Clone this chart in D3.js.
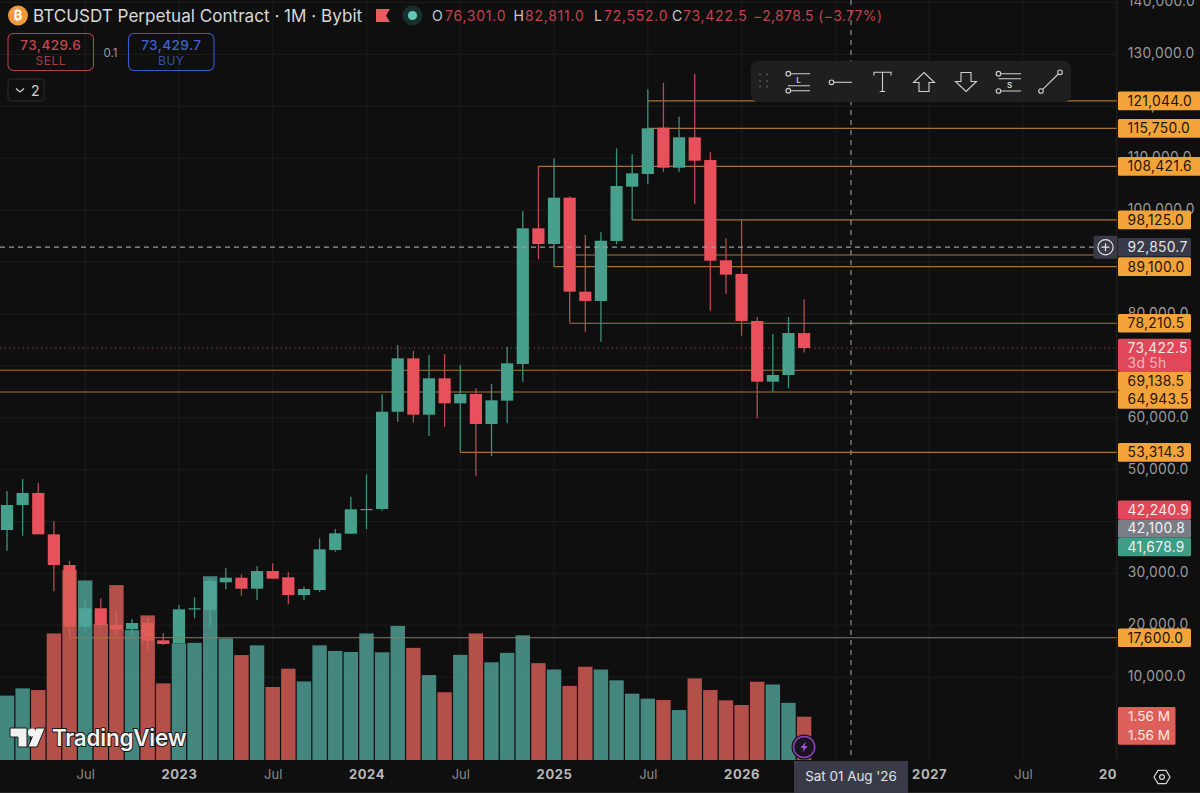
<!DOCTYPE html>
<html>
<head>
<meta charset="utf-8">
<script src="https://d3js.org/d3.v7.min.js"></script>
<style>
  html, body { margin: 0; padding: 0; background: #0f0f0f; overflow: hidden; }
  svg { display: block; }
  text { font-family: Inter, "Noto Sans", sans-serif; }
</style>
</head>
<body>
<svg id="chart" width="1200" height="793"></svg>
<script>
// monthly candles, Feb 2022 .. May 2026
const months = ["2022-02","2022-03","2022-04","2022-05","2022-06","2022-07","2022-08","2022-09","2022-10","2022-11","2022-12",
  "2023-01","2023-02","2023-03","2023-04","2023-05","2023-06","2023-07","2023-08","2023-09","2023-10","2023-11","2023-12",
  "2024-01","2024-02","2024-03","2024-04","2024-05","2024-06","2024-07","2024-08","2024-09","2024-10","2024-11","2024-12",
  "2025-01","2025-02","2025-03","2025-04","2025-05","2025-06","2025-07","2025-08","2025-09","2025-10","2025-11","2025-12",
  "2026-01","2026-02","2026-03","2026-04","2026-05"];
const opens = [38360,43180,45500,37530,31620,19750,23280,20050,19230,20440,17110,
  16530,23100,22950,28280,29170,27050,30460,29250,25840,26800,34500,37650,
  42300,42410,61150,71440,60580,67590,62770,64560,58790,63280,70350,96490,
  93470,102390,84280,82490,94050,104510,106960,115880,108170,114020,109650,90330,
  87700,78630,66940,68230,76301];
const highs = [45900,48190,47470,40030,32400,24650,25200,22800,21200,21340,18450,
  23900,25400,29000,31100,29820,31400,31950,30200,27440,36760,38550,44780,
  49090,64510,74000,72900,72070,72270,70150,65660,66490,73680,99760,108500,
  109980,102720,95200,95720,111900,110750,123280,124550,117980,126200,111130,94560,
  98230,79400,76130,79400,82811];
const lows = [34370,37260,37700,26550,17600,18800,19500,18100,18150,15240,16200,
  16530,21350,19730,26930,25700,24870,28900,24040,24870,26470,34180,37650,
  38500,42080,59230,59110,56470,58260,53390,48830,52620,58920,66940,90520,
  89100,78300,76570,74640,93470,98090,105030,107340,107400,101180,80620,83830,
  75800,59880,65010,65660,72552];
const closes = [43180,45500,37530,31620,19750,23280,20050,19230,20440,17040,16400,
  23080,23280,28540,29170,27050,30460,28980,25840,26990,34640,37720,42350,
  42410,61150,71440,60580,67590,62770,64560,58790,63350,70480,96490,93470,
  102390,84280,82490,94100,104640,107080,115760,108170,114020,109520,90250,87560,
  78630,66940,68230,76320,73422.5];
const volumes = [2.32,2.58,2.52,4.56,6.84,6.47,4.90,6.30,4.68,5.21,2.76,
  4.20,4.22,6.62,4.38,3.78,4.13,2.63,3.29,2.83,4.13,3.93,3.89,
  4.56,3.88,4.83,4.04,3.06,2.44,3.79,4.56,3.52,3.86,4.49,3.49,
  3.26,2.67,3.36,3.26,2.87,2.39,2.21,2.16,1.80,2.94,2.52,2.15,
  1.98,2.82,2.72,2.06,1.56];

const priceTicks = d3.range(10000, 150000, 10000);
// these sit fully behind a price tag in the picture
const coveredPriceTicks = [40000, 70000, 90000];
const timeTickMonths = [5, 11, 17, 23, 29, 35, 41, 47, 53, 59, 65, 71];
const timeTickLabels = ["Jul","2023","Jul","2024","Jul","2025","Jul","2026","","2027","Jul","20"];

// drawn price levels: value and the month index the line starts at (-1 = whole width)
const levelValues = [121044, 115750, 108421.6, 98125, 91350, 89100, 78210.5, 69138.5, 64943.5, 53314.3, 17600];
const levelStarts = [41, 41, 34, 40, 36, 35, 36, -1, -1, 29, 4];

// price scale tags, top to bottom
const tagValues = [121044, 115750, 108421.6, 98125, 92850.7, 89100, 78210.5, 73422.5, 69138.5, 64943.5, 53314.3, 42240.9, 42100.8, 41678.9, 17600];
const tagKinds = ["o","o","o","o","cross","o","o","last","o","o","o","r","g","t","o"];

const crossPrice = 92850.7;
const crossMonth = 54;
const lastPrice = 73422.5;
const chartTitle = "BTCUSDT Perpetual Contract · 1M · Bybit";
const volumeTagText = ["1.56 M", "1.56 M"];

const colors = {
  bg: "#0f0f0f", grid: "#1c1c1c", up: "#46a08c", down: "#e8505c", upWick: "#3f9080", downWick: "#b84a52",
  volUp: "#52a69c", volDown: "#de6159", level: "#a5743a", tag: "#f2a33a", axis: "#9b9b9b", cross: "#9a9a9a"
};

const svg = d3.select("#chart");
const plotW = 1116.7, plotH = 760;

// scales
const x = d3.scaleLinear().domain([0, 71]).range([7, 1116.7]);
const y = d3.scaleLinear().domain([0, 140000]).range([729.1, 2.5]);
const yVol = d3.scaleLinear().domain([0, 1.56]).range([760, 716.7]);

const candles = months.map((m, i) => ({
  i, month: m, o: opens[i], h: highs[i], l: lows[i], c: closes[i], v: volumes[i], up: closes[i] >= opens[i]
}));

svg.append("rect").attr("width", 1200).attr("height", 793).attr("fill", colors.bg);

// grid
const grid = svg.append("g");
grid.selectAll("line.h").data(priceTicks).enter().append("line")
  .attr("x1", 0).attr("x2", plotW).attr("y1", d => y(d)).attr("y2", d => y(d))
  .attr("stroke", colors.grid);
grid.selectAll("line.v").data(timeTickMonths).enter().append("line")
  .attr("x1", d => x(d)).attr("x2", d => x(d)).attr("y1", 0).attr("y2", plotH)
  .attr("stroke", colors.grid);
grid.append("line").attr("x1", plotW).attr("x2", plotW).attr("y1", 0).attr("y2", plotH).attr("stroke", "#222");
grid.append("line").attr("x1", 0).attr("x2", 1200).attr("y1", 792.5).attr("y2", 792.5).attr("stroke", "#222");

// level lines
function drawLevels(parent, vals) {
  parent.selectAll("line").data(vals).enter().append("line")
    .attr("x1", d => d.start < 0 ? 0 : x(d.start))
    .attr("x2", plotW)
    .attr("y1", d => y(d.value)).attr("y2", d => y(d.value))
    .attr("stroke", colors.level).attr("stroke-width", 1.1);
}
const levels = levelValues.map((value, i) => ({ value, start: levelStarts[i] }));
drawLevels(svg.append("g"), levels.filter(d => d.value > 20000));

// last price dotted line
svg.append("line").attr("x1", 0).attr("x2", plotW).attr("y1", y(lastPrice)).attr("y2", y(lastPrice))
  .attr("stroke", "#b0485a").attr("stroke-dasharray", "1.2 3.4");

// candles
const candleG = svg.append("g");
candleG.selectAll("line").data(candles).enter().append("line")
  .attr("x1", d => x(d.i)).attr("x2", d => x(d.i))
  .attr("y1", d => y(d.h)).attr("y2", d => y(d.l))
  .attr("stroke", d => d.up ? colors.upWick : colors.downWick).attr("stroke-width", 1.3);
candleG.selectAll("rect").data(candles).enter().append("rect")
  .attr("x", d => x(d.i) - 6.1).attr("width", 12.2)
  .attr("y", d => y(Math.max(d.o, d.c)))
  .attr("height", d => Math.max(1.2, Math.abs(y(d.o) - y(d.c))))
  .attr("fill", d => d.up ? colors.up : colors.down);

// volume, translucent over the candles
svg.append("g").attr("opacity", 0.8).selectAll("rect").data(candles).enter().append("rect")
  .attr("x", d => x(d.i) - 7.2).attr("width", 14.4)
  .attr("y", d => yVol(d.v)).attr("height", d => plotH - yVol(d.v))
  .attr("fill", d => d.up ? colors.volUp : colors.volDown);

drawLevels(svg.append("g"), levels.filter(d => d.value <= 20000));

// crosshair
svg.append("line").attr("x1", x(crossMonth)).attr("x2", x(crossMonth)).attr("y1", 0).attr("y2", plotH)
  .attr("stroke", colors.cross).attr("stroke-dasharray", "5 5").attr("stroke-width", 1.1);
svg.append("line").attr("x1", 0).attr("x2", 1094).attr("y1", y(crossPrice)).attr("y2", y(crossPrice))
  .attr("stroke", colors.cross).attr("stroke-dasharray", "5 4").attr("stroke-width", 1.2);

// axes
const yAxis = svg.append("g").attr("transform", `translate(${plotW},0)`)
  .call(d3.axisRight(y).tickValues(priceTicks).tickSize(0).tickPadding(11)
    .tickFormat(d => coveredPriceTicks.includes(d) ? "" : d3.format(",.1f")(d)));
yAxis.select(".domain").remove();
yAxis.selectAll("text").attr("fill", colors.axis).attr("font-size", 13.8).attr("letter-spacing", 0.3)
  .attr("font-family", "Inter").attr("dy", "0.25em");

const xAxis = svg.append("g").attr("transform", `translate(0,${plotH})`)
  .call(d3.axisBottom(x).tickValues(timeTickMonths).tickSize(0).tickPadding(10)
    .tickFormat((d, i) => timeTickLabels[i]));
xAxis.select(".domain").remove();
xAxis.selectAll("text")
  .attr("font-family", "Inter").attr("font-size", 13)
  .attr("fill", (d, i) => timeTickLabels[i] === "Jul" ? "#8a8a8a" : "#b8b8b8")
  .attr("font-weight", (d, i) => timeTickLabels[i] === "Jul" ? 400 : 700)
  .attr("letter-spacing", (d, i) => timeTickLabels[i] === "Jul" ? 0 : 0.6)
  .attr("text-anchor", (d, i) => timeTickLabels[i] === "20" ? "end" : "middle");

// price tags, pushed apart top to bottom when they would overlap
const tagH = 18.6;
const tagStyle = {
  o: { fill: colors.tag, text: "#1b1407" },
  cross: { fill: "#383b47", text: "#e4e4e4" },
  last: { fill: "#e0485a", text: "#f7e9e9" },
  r: { fill: "#e0485a", text: "#f7e9e9" },
  g: { fill: "#7a7c86", text: "#f2f2f2" },
  t: { fill: "#3f9c85", text: "#f2f2f2" }
};
let bottom = -100;
const tags = tagValues.map((value, i) => {
  const kind = tagKinds[i];
  const h = kind === "last" ? 32.7 : tagH;
  const top = Math.max(y(value) - tagH / 2, bottom);
  bottom = top + h;
  return { value, kind, top, h, wide: value > 100000 };
});
const tagG = svg.append("g").selectAll("g").data(tags).enter().append("g")
  .attr("transform", d => `translate(1118,${d.top})`);
tagG.append("rect").attr("width", d => d.wide ? 84 : 73).attr("height", d => d.h).attr("rx", 1.5)
  .attr("fill", d => tagStyle[d.kind].fill);
tagG.append("text").attr("x", 9.6).attr("y", tagH / 2).attr("dy", "0.36em")
  .attr("font-size", 13.8).attr("letter-spacing", 0.3)
  .attr("fill", d => tagStyle[d.kind].text)
  .text(d => d3.format(",.1f")(d.value));
tagG.filter(d => d.kind === "last").append("text").attr("x", 9.6).attr("y", 24.5).attr("dy", "0.36em")
  .attr("font-size", 13.8).attr("letter-spacing", 0.3).attr("fill", "#f3b6b9").text("3d 5h");

// plus button next to the crosshair tag
const plus = svg.append("g").attr("transform", `translate(1105.5,${y(crossPrice)})`);
plus.append("rect").attr("x", -12).attr("y", -11.5).attr("width", 24).attr("height", 23).attr("rx", 2).attr("fill", "#383b47");
plus.append("circle").attr("r", 7.6).attr("fill", "none").attr("stroke", "#e6e6e6").attr("stroke-width", 1.2);
plus.append("path").attr("d", "M-4,0H4M0,-4V4").attr("stroke", "#e6e6e6").attr("stroke-width", 1.2);

// volume tags
const volTags = svg.append("g").attr("transform", `translate(1118,${yVol(volumes[volumes.length - 1]) - 9.6})`);
volTags.append("rect").attr("width", 57.5).attr("height", 37.6).attr("rx", 1.5).attr("fill", "#dd5f5a");
volTags.selectAll("text").data(volumeTagText).enter().append("text")
  .attr("x", 10).attr("y", (d, i) => 9 + i * 19).attr("dy", "0.36em")
  .attr("font-size", 13.6).attr("fill", "#fbe9e7").text(d => d);

// date tag on the time axis
const dateTag = svg.append("g").attr("transform", `translate(${x(crossMonth)},761)`);
dateTag.append("rect").attr("x", -57).attr("width", 114).attr("height", 32).attr("fill", "#383b47");
dateTag.append("text").attr("y", 15).attr("dy", "0.36em").attr("text-anchor", "middle")
  .attr("font-size", 13.4).attr("fill", "#e2e2e2").text("Sat 01 Aug '26");

// settings gear on the axis corner
const gear = svg.append("g").attr("transform", "translate(1162,777)").attr("fill", "none").attr("stroke", "#d6d6d6").attr("stroke-width", 1.2);
gear.append("path").attr("d", "M-8,0L-4,-6.6H4L8,0L4,6.6H-4Z");
gear.append("circle").attr("r", 2.4);

// lightning badge
const bolt = svg.append("g").attr("transform", `translate(${x(51)},747)`);
bolt.append("circle").attr("r", 12.6).attr("fill", "#16101a");
bolt.append("circle").attr("r", 10.6).attr("fill", "#1a1420").attr("stroke", "#8f45ba").attr("stroke-width", 1.5);
bolt.append("path").attr("d", "M1.8,-5.5L-3.6,1H-0.4L-1.8,5.5L3.6,-1H0.4Z").attr("fill", "#a455dc");

// TradingView watermark
const logo = svg.append("g");
logo.append("path").attr("d", "M10,728H27V747H18V737H10Z M37,747H28L36,728H45L37,747Z")
  .attr("fill", "#f2f2f2").attr("stroke", "#1a1a1a").attr("stroke-width", 1);
logo.append("circle").attr("cx", 32).attr("cy", 732.5).attr("r", 4).attr("fill", "#f2f2f2");
logo.append("text").attr("x", 52).attr("y", 745.5).attr("font-size", 22.4).attr("font-weight", 600).attr("letter-spacing", -0.2)
  .attr("fill", "#f2f2f2").attr("stroke", "#1a1a1a").attr("stroke-width", 2).attr("paint-order", "stroke").text("TradingView");

// header
const head = svg.append("g");
head.append("circle").attr("cx", 18).attr("cy", 15.5).attr("r", 10).attr("fill", "#ef9a37");
head.append("text").attr("x", 18).attr("y", 20).attr("text-anchor", "middle").attr("font-size", 13).attr("font-weight", 700)
  .attr("font-family", "DejaVu Sans").attr("fill", "#fff").text("₿");
head.append("text").attr("x", 33).attr("y", 22).attr("font-size", 17.1).attr("fill", "#d8d8d8").text(chartTitle);
head.append("path").attr("d", "M376,9H390L386,15.5L390,22H376Z").attr("fill", "#ea5a5e");
head.append("circle").attr("cx", 412.5).attr("cy", 15.5).attr("r", 10).attr("fill", "#17302d");
head.append("circle").attr("cx", 412.5).attr("cy", 15.5).attr("r", 4.6).attr("fill", "#63c5b3");

const ohlcLetters = ["O", "H", "L", "C"];
const ohlcLetterX = [432, 513.5, 594, 672];
const ohlcValues = ["76,301.0", "82,811.0", "72,552.0", "73,422.5"];
const ohlcValueX = [445, 525, 604, 683];
ohlcLetters.forEach((t, i) => {
  head.append("text").attr("x", ohlcLetterX[i]).attr("y", 21).attr("font-size", 14).attr("fill", "#c8c8c8").text(t);
  head.append("text").attr("x", ohlcValueX[i]).attr("y", 21).attr("font-size", 14).attr("letter-spacing", 0.75).attr("fill", "#c0444e").text(ohlcValues[i]);
});
head.append("text").attr("x", 753).attr("y", 21).attr("font-size", 14).attr("letter-spacing", 0.35).attr("fill", "#c0444e").text("−2,878.5 (−3.77%)");

// sell / buy buttons
function tradeButton(bx, bw, stroke, bright, dim, price, label) {
  const g = svg.append("g").attr("transform", `translate(${bx},33.5)`);
  g.append("rect").attr("width", bw).attr("height", 37).attr("rx", 5.5).attr("fill", "none").attr("stroke", stroke).attr("stroke-width", 1.1);
  g.append("text").attr("x", bw / 2).attr("y", 16.5).attr("text-anchor", "middle").attr("font-size", 13.6).attr("letter-spacing", 0.4).attr("font-weight", 500).attr("fill", bright).text(price);
  g.append("text").attr("x", bw / 2).attr("y", 31).attr("text-anchor", "middle").attr("font-size", 12).attr("letter-spacing", 0.5).attr("fill", dim).text(label);
}
tradeButton(8, 85.5, "#b0444c", "#c8474f", "#a23f47", "73,429.6", "SELL");
tradeButton(128.5, 85.5, "#3a5cc8", "#3f63d4", "#3651a8", "73,429.7", "BUY");
svg.append("text").attr("x", 110.5).attr("y", 57).attr("text-anchor", "middle").attr("font-size", 11.5).attr("fill", "#9a9a9a").text("0.1");

const fold = svg.append("g").attr("transform", "translate(8,79)");
fold.append("rect").attr("width", 36).attr("height", 22).attr("rx", 3).attr("fill", "none").attr("stroke", "#2c2c2c");
fold.append("path").attr("d", "M8,9.5L12,13L16,9.5").attr("fill", "none").attr("stroke", "#d8d8d8").attr("stroke-width", 1.1);
fold.append("text").attr("x", 23).attr("y", 16.5).attr("font-size", 14).attr("fill", "#d0d0d0").text("2");

// drawing toolbar
const bar = svg.append("g").attr("transform", "translate(751,61)");
bar.append("rect").attr("width", 320).attr("height", 41).attr("rx", 7).attr("fill", "#1f1f1f");
const tool = bar.append("g").attr("fill", "none").attr("stroke", "#cfcfcf").attr("stroke-width", 1.1);
[[9, 13.5], [16, 13.5], [9, 20], [16, 20], [9, 25.5], [16, 25.5]].forEach(p => {
  bar.append("circle").attr("cx", p[0]).attr("cy", p[1]).attr("r", 1).attr("fill", "#5a5a5a");
});
// long position tool
tool.append("path").attr("d", "M39.7,12.7H59 M37,24.7H59 M39.7,29.7H59");
tool.append("circle").attr("cx", 37.3).attr("cy", 12.7).attr("r", 2.3);
tool.append("circle").attr("cx", 37.3).attr("cy", 29.7).attr("r", 2.3);
bar.append("text").attr("x", 47.5).attr("y", 22).attr("text-anchor", "middle").attr("font-size", 8).attr("font-weight", 600).attr("fill", "#cfcfcf").text("L");
// horizontal ray
tool.append("circle").attr("cx", 80.5).attr("cy", 21.3).attr("r", 2.3);
tool.append("path").attr("d", "M83,21.3H101");
// text tool
tool.append("path").attr("d", "M123,14.5V11.3H140V14.5 M131.5,11.3V30.5 M128.7,30.5H134.3");
// arrows
tool.append("path").attr("d", "M173,11.5L183.5,21.5H178V30.5H168V21.5H162.5Z");
tool.append("path").attr("d", "M215,30.5L225.5,20.5H220V11.5H210V20.5H204.5Z");
// short position tool
tool.append("path").attr("d", "M250,12.7H270 M247.5,17.7H270 M250,30H270");
tool.append("circle").attr("cx", 247.5).attr("cy", 12.7).attr("r", 2.3);
tool.append("circle").attr("cx", 247.5).attr("cy", 30).attr("r", 2.3);
bar.append("text").attr("x", 258.5).attr("y", 27).attr("text-anchor", "middle").attr("font-size", 8).attr("font-weight", 600).attr("fill", "#cfcfcf").text("S");
// trend line
tool.append("path").attr("d", "M291.7,28.3L307.3,13");
tool.append("circle").attr("cx", 290).attr("cy", 30).attr("r", 2.3);
tool.append("circle").attr("cx", 309).attr("cy", 11.3).attr("r", 2.3);
</script>
</body>
</html>
